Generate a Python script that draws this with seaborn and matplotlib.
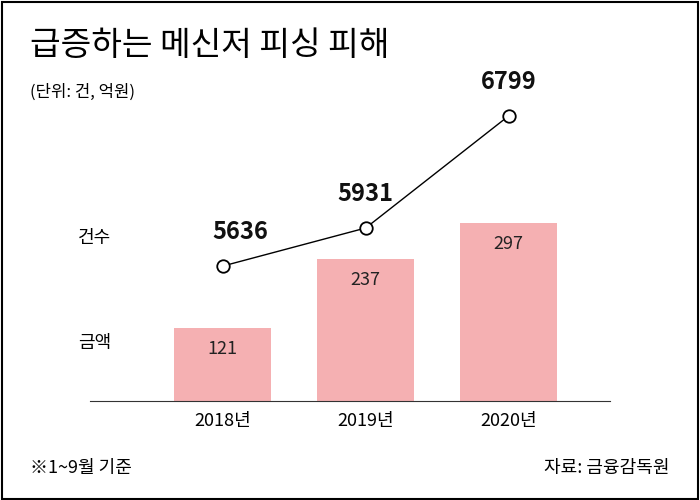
import matplotlib
matplotlib.use("Agg")
import matplotlib.pyplot as plt
import seaborn as sns
import pandas as pd
from matplotlib.patches import Rectangle

# TTC collections may register under another CJK name, so list fallbacks
plt.rcParams["font.family"] = ["Noto Sans CJK KR", "Noto Sans CJK JP",
                               "Noto Sans CJK SC", "Noto Sans CJK TC", "DejaVu Sans"]

years = ["2018년", "2019년", "2020년"]
amounts = [121, 237, 297]      # 금액 (억원)
counts = [5636, 5931, 6799]    # 건수

df = pd.DataFrame({"year": years, "amount": amounts, "count": counts})

fig = plt.figure(figsize=(7, 5), dpi=100)
fig.patches.append(Rectangle((0.003, 0.003), 0.994, 0.994, transform=fig.transFigure,
                             fill=False, edgecolor="black", linewidth=1.5))

ax = fig.add_axes([90 / 700, 99 / 500, 520 / 700, 400 / 500])
sns.barplot(data=df, x="year", y="amount", color="#f5b0b2", saturation=1,
            width=0.68, ax=ax)
ax.set_xlim(-0.93, 2.71)
ax.set_ylim(0, 667)
for i, v in enumerate(amounts):
    ax.text(i, v - 35, str(v), ha="center", va="center", fontsize=13, color="#222222")

ax2 = ax.twinx()
ax2.plot(range(3), counts, color="black", linewidth=1, marker="o", markersize=9,
         markerfacecolor="white", markeredgecolor="black", markeredgewidth=1.3)
ax2.set_ylim(4590, 7690)
for i, v in enumerate(counts):
    ax2.text(i + (0.12 if i == 0 else 0), v + 260, str(v), ha="center", va="center",
             fontsize=17, fontweight="bold", color="#111111")

for a in (ax, ax2):
    for s in a.spines.values():
        s.set_visible(False)
    a.set_yticks([])
    a.set_ylabel("")
ax.spines["bottom"].set_visible(True)
ax.spines["bottom"].set_color("#333333")
ax.tick_params(axis="x", length=0, labelsize=13, pad=8)
ax.set_xlabel("")

fig.text(30 / 700, 1 - 45 / 500, "급증하는 메신저 피싱 피해", fontsize=24, va="center")
fig.text(30 / 700, 1 - 92 / 500, "(단위: 건, 억원)", fontsize=12, va="center")
fig.text(78 / 700, 1 - 238 / 500, "건수", fontsize=13, va="center")
fig.text(78 / 700, 1 - 343 / 500, "금액", fontsize=13, va="center")
fig.text(30 / 700, 1 - 468 / 500, "※1~9월 기준", fontsize=13, va="center")
fig.text(670 / 700, 1 - 468 / 500, "자료: 금융감독원", fontsize=13, va="center", ha="right")

fig.savefig("out.png", dpi=100)
